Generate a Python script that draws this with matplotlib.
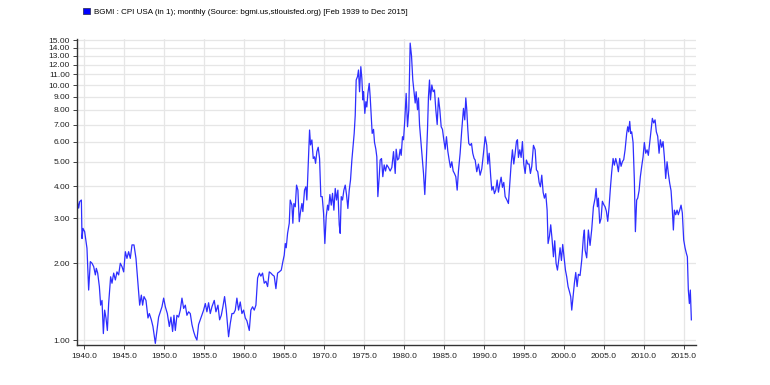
import matplotlib
matplotlib.use("Agg")
import matplotlib.pyplot as plt
from matplotlib.ticker import FixedLocator, FormatStrFormatter, NullLocator
from matplotlib.patches import Patch

plt.rcParams['font.family'] = ['Liberation Sans', 'DejaVu Sans']

series_label = "BGMI : CPI USA (in 1); monthly (Source: bgmi.us,stlouisfed.org) [Feb 1939 to Dec 2015]"

years = [
    1939.08, 1939.29, 1939.42, 1939.63, 1939.71, 1939.83, 1940.04, 1940.33, 1940.54, 1940.75,
    1940.96, 1941.17, 1941.38, 1941.50, 1941.67, 1941.88, 1942.04, 1942.21, 1942.38, 1942.54,
    1942.71, 1942.88, 1943.04, 1943.29, 1943.46, 1943.67, 1943.88, 1944.08, 1944.29, 1944.50,
    1944.71, 1944.92, 1945.13, 1945.33, 1945.54, 1945.75, 1945.96, 1946.21, 1946.46, 1946.71,
    1946.92, 1947.13, 1947.29, 1947.46, 1947.71, 1947.96, 1948.13, 1948.38, 1948.58, 1948.88,
    1949.08, 1949.29, 1949.50, 1949.71, 1949.92, 1950.13, 1950.38, 1950.63, 1950.83, 1951.04,
    1951.21, 1951.38, 1951.58, 1951.79, 1952.00, 1952.21, 1952.42, 1952.63, 1952.83, 1953.04,
    1953.25, 1953.46, 1953.67, 1953.88, 1954.08, 1954.29, 1954.50, 1954.71, 1954.92, 1955.13,
    1955.33, 1955.54, 1955.75, 1955.96, 1956.25, 1956.46, 1956.71, 1956.92, 1957.13, 1957.33,
    1957.54, 1957.75, 1957.92, 1958.04, 1958.25, 1958.46, 1958.67, 1958.88, 1959.08, 1959.29,
    1959.50, 1959.71, 1959.92, 1960.13, 1960.33, 1960.63, 1960.83, 1961.04, 1961.25, 1961.46,
    1961.67, 1961.88, 1962.08, 1962.29, 1962.50, 1962.71, 1962.92, 1963.13, 1963.33, 1963.54,
    1963.75, 1963.96, 1964.17, 1964.38, 1964.63, 1964.83, 1965.00, 1965.13, 1965.25, 1965.42,
    1965.63, 1965.75, 1965.96, 1966.08, 1966.21, 1966.38, 1966.54, 1966.71, 1966.88, 1967.04,
    1967.21, 1967.33, 1967.54, 1967.71, 1967.83, 1968.04, 1968.17, 1968.29, 1968.46, 1968.63,
    1968.79, 1968.92, 1969.08, 1969.25, 1969.42, 1969.58, 1969.75, 1969.92, 1970.08, 1970.25,
    1970.42, 1970.54, 1970.71, 1970.88, 1971.04, 1971.21, 1971.38, 1971.54, 1971.71, 1971.88,
    1972.00, 1972.13, 1972.29, 1972.46, 1972.63, 1972.79, 1972.96, 1973.13, 1973.29, 1973.46,
    1973.63, 1973.75, 1973.88, 1974.00, 1974.17, 1974.29, 1974.42, 1974.58, 1974.71, 1974.83,
    1974.92, 1975.08, 1975.21, 1975.33, 1975.46, 1975.63, 1975.75, 1975.88, 1976.00, 1976.17,
    1976.29, 1976.46, 1976.58, 1976.71, 1976.88, 1977.00, 1977.17, 1977.33, 1977.50, 1977.67,
    1977.83, 1978.04, 1978.25, 1978.46, 1978.67, 1978.88, 1979.00, 1979.17, 1979.33, 1979.50,
    1979.63, 1979.79, 1979.92, 1980.08, 1980.25, 1980.42, 1980.58, 1980.75, 1980.92, 1981.08,
    1981.25, 1981.38, 1981.50, 1981.67, 1981.79, 1981.92, 1982.08, 1982.25, 1982.42, 1982.58,
    1982.75, 1982.92, 1983.04, 1983.17, 1983.29, 1983.46, 1983.63, 1983.79, 1983.96, 1984.13,
    1984.29, 1984.46, 1984.63, 1984.79, 1984.96, 1985.13, 1985.29, 1985.46, 1985.63, 1985.79,
    1985.96, 1986.13, 1986.29, 1986.46, 1986.63, 1986.79, 1987.00, 1987.21, 1987.42, 1987.58,
    1987.71, 1987.83, 1987.96, 1988.08, 1988.25, 1988.42, 1988.58, 1988.75, 1988.88, 1989.08,
    1989.29, 1989.50, 1989.71, 1989.92, 1990.13, 1990.33, 1990.46, 1990.63, 1990.83, 1990.96,
    1991.13, 1991.29, 1991.46, 1991.63, 1991.79, 1991.96, 1992.13, 1992.29, 1992.46, 1992.63,
    1992.83, 1993.04, 1993.21, 1993.38, 1993.54, 1993.71, 1993.88, 1994.04, 1994.17, 1994.29,
    1994.46, 1994.63, 1994.79, 1994.96, 1995.13, 1995.29, 1995.46, 1995.63, 1995.79, 1995.96,
    1996.17, 1996.38, 1996.54, 1996.71, 1996.88, 1997.04, 1997.21, 1997.38, 1997.54, 1997.71,
    1997.88, 1998.00, 1998.17, 1998.33, 1998.50, 1998.67, 1998.83, 1999.00, 1999.17, 1999.33,
    1999.50, 1999.67, 1999.83, 2000.00, 2000.17, 2000.33, 2000.50, 2000.67, 2000.83, 2000.96,
    2001.13, 2001.29, 2001.46, 2001.63, 2001.79, 2002.00, 2002.21, 2002.42, 2002.54, 2002.63,
    2002.83, 2003.04, 2003.25, 2003.46, 2003.67, 2003.88, 2004.00, 2004.17, 2004.29, 2004.46,
    2004.63, 2004.79, 2004.96, 2005.13, 2005.29, 2005.46, 2005.63, 2005.79, 2005.96, 2006.13,
    2006.29, 2006.46, 2006.63, 2006.79, 2006.96, 2007.13, 2007.29, 2007.46, 2007.63, 2007.83,
    2007.96, 2008.08, 2008.21, 2008.33, 2008.46, 2008.63, 2008.79, 2008.92, 2009.08, 2009.21,
    2009.38, 2009.54, 2009.71, 2009.88, 2010.04, 2010.21, 2010.38, 2010.54, 2010.71, 2010.88,
    2011.04, 2011.21, 2011.38, 2011.54, 2011.71, 2011.88, 2012.04, 2012.21, 2012.38, 2012.54,
    2012.71, 2012.88, 2013.04, 2013.21, 2013.38, 2013.54, 2013.67, 2013.79, 2013.96, 2014.13,
    2014.29, 2014.46, 2014.63, 2014.79, 2014.96, 2015.13, 2015.29, 2015.42, 2015.54, 2015.67,
    2015.79, 2015.92,
]

cpi_usa = [
    3.59, 3.29, 3.49, 3.54, 2.50, 2.74, 2.66, 2.29, 1.57, 2.03,
    2.00, 1.94, 1.80, 1.91, 1.83, 1.62, 1.37, 1.43, 1.06, 1.31,
    1.22, 1.09, 1.39, 1.77, 1.67, 1.83, 1.72, 1.85, 1.80, 2.00,
    1.94, 1.85, 2.22, 2.09, 2.22, 2.09, 2.36, 2.36, 2.09, 1.67,
    1.37, 1.50, 1.37, 1.48, 1.43, 1.22, 1.27, 1.20, 1.13, 0.97,
    1.09, 1.23, 1.29, 1.35, 1.46, 1.35, 1.27, 1.13, 1.23, 1.08,
    1.25, 1.09, 1.25, 1.23, 1.31, 1.46, 1.33, 1.37, 1.25, 1.29,
    1.27, 1.15, 1.08, 1.03, 1.00, 1.15, 1.20, 1.25, 1.31, 1.39,
    1.29, 1.40, 1.27, 1.35, 1.43, 1.29, 1.37, 1.20, 1.25, 1.35,
    1.48, 1.31, 1.13, 1.03, 1.16, 1.27, 1.27, 1.31, 1.46, 1.31,
    1.41, 1.27, 1.31, 1.22, 1.19, 1.09, 1.31, 1.35, 1.31, 1.37,
    1.75, 1.83, 1.78, 1.83, 1.67, 1.70, 1.62, 1.85, 1.83, 1.80,
    1.78, 1.59, 1.83, 1.85, 1.88, 2.03, 2.15, 2.39, 2.30, 2.62,
    2.87, 3.54, 3.38, 2.87, 3.43, 3.33, 4.05, 3.87, 2.91, 3.19,
    3.43, 3.19, 3.87, 3.99, 3.54, 5.23, 6.66, 5.82, 6.09, 5.15,
    5.23, 4.93, 5.48, 5.70, 5.15, 3.65, 3.65, 3.14, 2.39, 3.05,
    3.38, 3.23, 3.72, 3.38, 3.76, 3.23, 3.93, 3.54, 3.87, 2.83,
    2.62, 3.65, 3.54, 3.87, 4.05, 3.72, 3.28, 3.87, 4.24, 5.08,
    5.82, 6.46, 7.60, 10.46, 10.80, 11.45, 9.41, 11.80, 10.60, 8.74,
    9.41, 7.74, 8.60, 8.20, 9.27, 10.15, 9.00, 7.52, 6.46, 6.70,
    5.96, 5.60, 5.23, 3.65, 4.37, 5.08, 5.15, 4.37, 4.86, 4.60,
    4.86, 4.75, 4.60, 4.75, 5.48, 4.50, 5.60, 5.08, 5.15, 5.60,
    5.30, 6.27, 6.10, 7.29, 9.27, 6.86, 8.00, 14.60, 13.00, 10.46,
    9.27, 8.50, 9.41, 8.00, 8.90, 7.00, 6.09, 5.23, 4.50, 3.72,
    4.86, 6.70, 9.00, 10.46, 8.74, 10.00, 9.41, 9.56, 8.00, 7.00,
    8.90, 8.00, 6.86, 6.70, 6.09, 5.60, 6.27, 5.50, 5.08, 4.75,
    5.00, 4.60, 4.50, 4.37, 3.87, 4.60, 5.40, 6.70, 8.10, 7.30,
    8.90, 8.00, 6.70, 5.90, 5.80, 5.90, 5.40, 5.15, 5.08, 4.57,
    4.90, 4.43, 4.70, 5.40, 6.27, 5.80, 4.90, 5.40, 4.35, 3.87,
    4.00, 3.75, 3.87, 4.24, 3.80, 4.10, 4.35, 3.97, 4.15, 3.65,
    3.55, 3.43, 4.10, 4.90, 5.57, 4.90, 5.40, 6.00, 6.10, 5.20,
    5.57, 5.20, 6.00, 4.90, 4.50, 5.08, 4.90, 4.90, 4.50, 4.80,
    5.80, 5.57, 4.65, 4.57, 4.15, 3.99, 4.43, 3.80, 3.60, 3.75,
    3.23, 2.39, 2.55, 2.83, 2.48, 2.12, 2.45, 2.00, 1.88, 2.06,
    2.30, 2.05, 2.37, 2.12, 1.88, 1.77, 1.62, 1.55, 1.48, 1.31,
    1.48, 1.67, 1.84, 1.62, 1.81, 1.79, 2.06, 2.54, 2.70, 2.25,
    2.10, 2.70, 2.35, 2.72, 3.33, 3.60, 3.93, 3.33, 3.60, 2.87,
    3.00, 3.50, 3.40, 3.33, 3.20, 2.92, 3.33, 3.93, 4.57, 5.15,
    4.85, 5.15, 4.90, 4.57, 5.15, 4.80, 5.00, 5.10, 5.57, 6.46,
    6.86, 6.55, 7.20, 6.46, 6.55, 5.95, 4.24, 2.66, 3.54, 3.60,
    3.85, 4.37, 4.80, 5.23, 5.95, 5.40, 5.57, 5.30, 5.95, 6.66,
    7.40, 7.10, 7.30, 6.55, 6.30, 5.40, 6.10, 5.70, 6.00, 5.23,
    4.30, 5.00, 4.50, 4.12, 3.85, 3.23, 2.70, 3.23, 3.10, 3.23,
    3.10, 3.23, 3.38, 3.15, 2.47, 2.30, 2.19, 2.12, 1.57, 1.39,
    1.57, 1.20,
]

y_ticks = [1, 2, 3, 4, 5, 6, 7, 8, 9, 10, 11, 12, 13, 14, 15]
x_ticks = [1940, 1945, 1950, 1955, 1960, 1965, 1970, 1975, 1980, 1985, 1990, 1995, 2000, 2005, 2010, 2015]

fig = plt.figure(figsize=(7.7, 3.85), dpi=100)
ax = fig.add_axes([0.1, 0.1039, 0.8039, 0.7948])

line_color = '#2e2eff'
ax.plot(years, cpi_usa, color=line_color, lw=0.9, solid_joinstyle='round')

ax.set_yscale('log')
ax.set_ylim(0.956, 15.15)
ax.set_xlim(1939.083, 2016.5)

ax.yaxis.set_major_locator(FixedLocator(y_ticks))
ax.yaxis.set_major_formatter(FormatStrFormatter('%.2f'))
ax.yaxis.set_minor_locator(NullLocator())
ax.xaxis.set_major_locator(FixedLocator(x_ticks))
ax.xaxis.set_major_formatter(FormatStrFormatter('%.1f'))

ax.grid(True, color='#e6e6e6', lw=0.9)
ax.set_axisbelow(True)
for s in ['top', 'right']:
    ax.spines[s].set_visible(False)
for s in ['left', 'bottom']:
    ax.spines[s].set_color('#333333')
    ax.spines[s].set_linewidth(1.0)

ax.tick_params(axis='both', labelsize=6, colors='#222222', length=3, width=0.6, pad=2)
ax.tick_params(axis='x', pad=3)

handle = Patch(facecolor='#0000ff', edgecolor='#333366', linewidth=0.6)
fig.legend(handles=[handle], labels=[series_label], loc='upper left',
           bbox_to_anchor=(0.1, 0.995), frameon=False, fontsize=5.8,
           handlelength=0.9, handleheight=0.9, handletextpad=0.5, borderaxespad=0.3)

fig.savefig('out.png', dpi=100)
